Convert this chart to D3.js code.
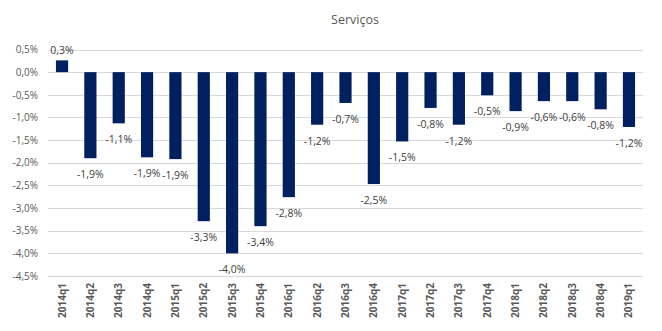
<!DOCTYPE html>
<html>
<head>
<meta charset="utf-8">
<script src="https://cdn.jsdelivr.net/npm/d3@7"></script>
<style>
  body { margin: 0; background: #fff; }
  text { font-family: "Open Sans", "Noto Sans", sans-serif; }
</style>
</head>
<body>
<div class="root"></div>
<script>
const quarters = ["2014q1", "2014q2", "2014q3", "2014q4", "2015q1", "2015q2", "2015q3", "2015q4",
  "2016q1", "2016q2", "2016q3", "2016q4", "2017q1", "2017q2", "2017q3", "2017q4",
  "2018q1", "2018q2", "2018q3", "2018q4", "2019q1"];
const values = [0.26, -1.9, -1.13, -1.88, -1.92, -3.29, -4.0, -3.4,
  -2.76, -1.16, -0.68, -2.47, -1.53, -0.79, -1.16, -0.51,
  -0.86, -0.64, -0.64, -0.82, -1.21];
const yTicks = [0.5, 0, -0.5, -1, -1.5, -2, -2.5, -3, -3.5, -4, -4.5];
const title = "Serviços";

const width = 662;
const height = 331;
const m = { top: 49.5, right: 19, bottom: 55, left: 48 };

const svg = d3.select("div.root").append("svg")
  .attr("width", width)
  .attr("height", height);

const fmt = v => d3.format(".1f")(v).replace(".", ",").replace("−", "-") + "%";

const x = d3.scaleBand()
  .domain(quarters)
  .range([m.left, width - m.right])
  .paddingInner(0.57)
  .paddingOuter(0.28);

const y = d3.scaleLinear()
  .domain([-4.5, 0.5])
  .range([height - m.bottom, m.top]);

// gridlines
svg.append("g")
  .selectAll("line")
  .data(yTicks)
  .join("line")
  .attr("x1", m.left)
  .attr("x2", width - m.right)
  .attr("y1", d => Math.round(y(d)) + 0.5)
  .attr("y2", d => Math.round(y(d)) + 0.5)
  .attr("stroke", "#d9d9d9");

// y axis labels
const yAxis = d3.axisLeft(y).tickValues(yTicks).tickSize(0).tickPadding(10)
  .tickFormat(fmt);
svg.append("g")
  .attr("transform", `translate(${m.left},0)`)
  .call(yAxis)
  .call(g => g.select(".domain").remove())
  .selectAll("text")
  .attr("font-size", 10)
  .attr("fill", "#595959")
  .style("font-family", "'Open Sans', sans-serif");

// bars
svg.append("g")
  .selectAll("rect")
  .data(values)
  .join("rect")
  .attr("x", (d, i) => x(quarters[i]))
  .attr("width", x.bandwidth())
  .attr("y", d => y(Math.max(0, d)))
  .attr("height", d => Math.abs(y(d) - y(0)))
  .attr("fill", "#002060");

// value labels
svg.append("g")
  .selectAll("text")
  .data(values)
  .join("text")
  .attr("x", (d, i) => x(quarters[i]) + x.bandwidth() / 2)
  .attr("y", d => d >= 0 ? y(d) - 6 : y(d) + 20)
  .attr("text-anchor", "middle")
  .attr("font-size", 10.5)
  .attr("fill", "#404040")
  .text(fmt);

// x axis labels
const xAxis = d3.axisBottom(x).tickSize(0).tickPadding(0);
svg.append("g")
  .attr("transform", `translate(0,${height - m.bottom})`)
  .call(xAxis)
  .call(g => g.select(".domain").remove())
  .selectAll("text")
  .attr("transform", "rotate(-90)")
  .attr("text-anchor", "end")
  .attr("x", -7)
  .attr("y", 0)
  .attr("dy", "0.35em")
  .attr("font-size", 10)
  .attr("font-weight", "bold")
  .attr("fill", "#595959")
  .style("font-family", "'Open Sans', sans-serif");

// title
svg.append("text")
  .attr("x", 355)
  .attr("y", 24)
  .attr("text-anchor", "middle")
  .attr("font-size", 12.5)
  .attr("fill", "#595959")
  .text(title);
</script>
</body>
</html>
